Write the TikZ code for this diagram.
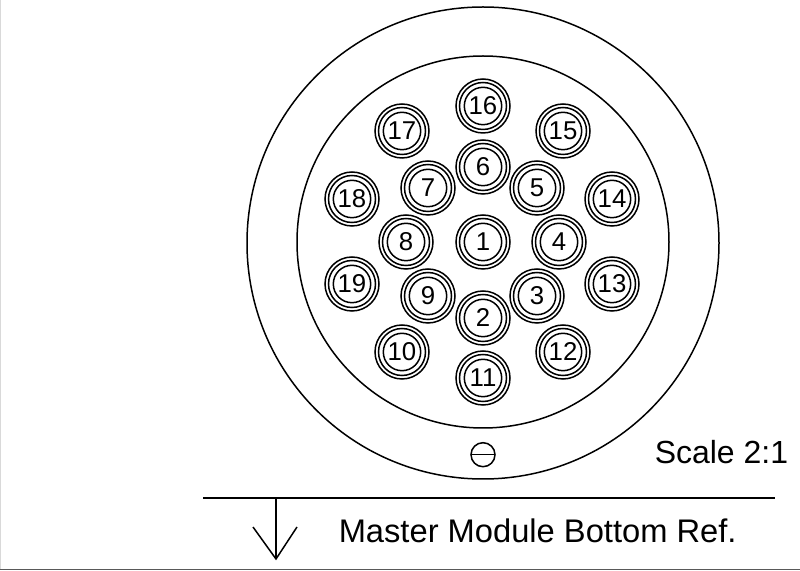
\documentclass[tikz,border=0pt]{standalone}
\usepackage{fontspec}
\setmainfont{Liberation Sans}
\tikzset{
  contact/.style={font=\fontsize{22}{23}\selectfont, inner sep=0pt},
  caption/.style={font=\fontsize{27.3}{30}\selectfont, inner sep=0pt, anchor=base west},
  refcaption/.style={caption, font=\fontsize{27.9}{30}\selectfont},
}
\begin{document}
\begin{tikzpicture}[x=0.03cm, y=-0.03cm, line width=0.045cm]
        \useasboundingbox (0,0) rectangle (800,571);
        \fill[white] (0,0) rectangle (800,571);
        \draw[gray!30] (0.5,0) -- (0.5,569);
        \draw[gray!70!black] (0,569.5) -- (800,569.5);
        % body
        \draw (483,243) circle (236);
        \draw (483,242) circle (186);
        % key mark
        \draw (483,454.7) circle (12);
        \draw (471,454.7) -- (495,454.7);
        % contacts
        \foreach \n/\x/\y in {1/483/242, 2/483/318, 3/537/296, 4/559/242, 5/537/188, 6/483/167,
                7/428/188, 8/406/242, 9/428/296, 10/402/352, 11/483/378, 12/563/352,
                13/612/284, 14/612/199, 15/563/131, 16/483/106, 17/402/131, 18/352/199, 19/352/284} {
            \draw (\x,\y) circle (27) circle (23.5) circle (18.7);
            \node[contact] (c\n) at (\x,\y) {\n};
        }
        % reference line
        \coordinate (refleft) at (203,498);
        \coordinate (refright) at (775,498);
        \coordinate (reftop) at (276,498);
        \coordinate (reftip) at (276,559);
        \draw[line width=0.07cm] (refleft) -- (refright);
        \draw (reftop) -- (reftip);
        \draw (253,527) -- (reftip) -- (297,527);
        \node[caption] (scale) at (654,464) {Scale 2:1};
        \node[refcaption] (ref) at (338,542.5) {Master Module Bottom Ref.};
\end{tikzpicture}
\end{document}
